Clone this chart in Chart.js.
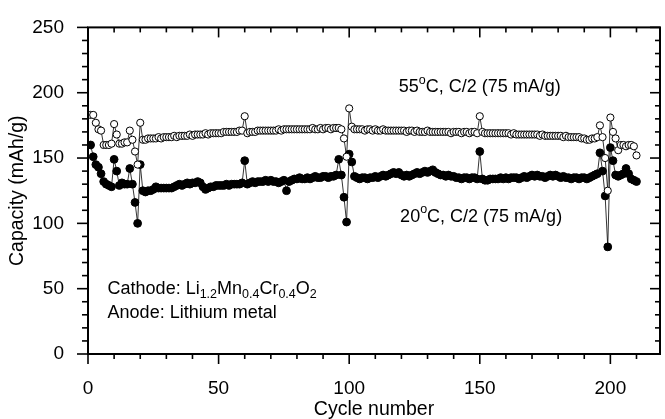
<!DOCTYPE html>
<html>
<head>
<meta charset="utf-8">
<script src="https://cdn.jsdelivr.net/npm/chart.js@4/dist/chart.umd.min.js"></script>
<style>
  html, body { margin: 0; padding: 0; background: #fff; }
  #wrap { width: 665px; height: 419px; }
</style>
</head>
<body>
<div id="wrap"><canvas id="capChart" width="665" height="419"></canvas></div>
<script>
// Kapasite verileri (mAh/g), döngü 1..210
const cap20C = [
  160, 151, 145, 143, 138, 132, 130, 129, 128, 149,
  140, 129, 131, 130, 130, 142, 130, 116, 100, 145,
  125, 124, 125, 125, 126, 128, 127, 127, 127, 127,
  127, 127, 128, 129, 130, 129, 130, 131, 130, 131,
  131, 132, 131, 128, 126, 127, 128, 128, 129, 129,
  129, 129, 130, 129, 130, 130, 130, 130, 131, 148,
  130, 131, 132, 131, 132, 132, 132, 133, 132, 133,
  132, 132, 131, 132, 133, 125, 132, 133, 134, 134,
  135, 134, 134, 135, 134, 135, 136, 135, 135, 136,
  136, 135, 136, 136, 137, 149, 137, 120, 101, 153,
  147, 136, 135, 134, 135, 135, 134, 135, 135, 136,
  135, 136, 137, 136, 137, 138, 139, 138, 139, 137,
  136, 137, 136, 137, 138, 139, 138, 139, 140, 139,
  140, 141, 139, 138, 137, 137, 136, 137, 136, 136,
  135, 135, 134, 135, 135, 134, 135, 135, 134, 155,
  134, 133, 133, 134, 134, 134, 134, 135, 134, 135,
  134, 135, 135, 135, 134, 135, 136, 135, 136, 137,
  136, 137, 136, 136, 135, 136, 137, 136, 137, 136,
  135, 136, 135, 135, 134, 135, 135, 134, 135, 135,
  134, 135, 136, 137, 138, 154, 140, 121, 82, 158,
  148, 137, 136, 137, 138, 142, 138, 134, 133, 132
];
const cap55C = [
  183, 183, 177, 172, 171, 160, 160, 160, 161, 176,
  168, 161, 161, 162, 162, 171, 164, 155, 145, 177,
  164, 164, 165, 165, 165, 165, 166, 165, 166, 166,
  166, 166, 167, 166, 167, 167, 167, 167, 168, 167,
  168, 168, 168, 168, 169, 168, 169, 169, 169, 169,
  169, 170, 170, 170, 170, 170, 170, 171, 171, 182,
  169, 170, 170, 170, 171, 171, 171, 171, 171, 171,
  171, 171, 172, 171, 172, 172, 172, 172, 172, 172,
  172, 172, 172, 172, 172, 173, 172, 172, 173, 172,
  173, 173, 172, 173, 173, 173, 172, 165, 151, 188,
  174, 172, 172, 172, 172, 171, 172, 172, 171, 172,
  171, 171, 172, 171, 171, 171, 171, 171, 171, 171,
  171, 170, 171, 171, 170, 171, 170, 170, 170, 171,
  170, 170, 170, 170, 170, 170, 170, 170, 169, 170,
  170, 170, 169, 170, 170, 169, 170, 170, 169, 182,
  170, 169, 169, 169, 169, 169, 169, 169, 169, 169,
  169, 168, 169, 168, 168, 168, 168, 168, 168, 168,
  168, 168, 167, 168, 167, 167, 167, 167, 167, 167,
  167, 166, 167, 166, 166, 166, 166, 166, 165, 165,
  164, 164, 165, 165, 166, 175, 166, 150, 125, 181,
  170, 165, 156, 160, 160, 159, 160, 160, 159, 152
];
const cycles = cap20C.map((_, i) => i + 1);
const xTicks = [0, 50, 100, 150, 200];
const yTicks = [0, 50, 100, 150, 200, 250];

const FONT = '"Liberation Sans", Arial, Helvetica, sans-serif';

// Çerçeve ve küçük tik çizgileri
const framePlugin = {
  id: 'frame',
  afterDraw(chart) {
    const ctx = chart.ctx;
    const a = chart.chartArea;
    const xs = chart.scales.x, ys = chart.scales.y;
    ctx.save();
    ctx.strokeStyle = '#000';
    ctx.lineWidth = 1.6;
    const line = (x1, y1, x2, y2) => {
      ctx.beginPath(); ctx.moveTo(x1, y1); ctx.lineTo(x2, y2); ctx.stroke();
    };
    for (let v = 0; v <= xs.max; v += 10) {
      const px = xs.getPixelForValue(v);
      const len = v % 50 === 0 ? 10 : 5;
      line(px, a.bottom, px, a.bottom + len);
      line(px, a.top, px, a.top + len);
    }
    for (let v = 0; v <= ys.max; v += 10) {
      const py = ys.getPixelForValue(v);
      const len = v % 50 === 0 ? 11 : 6;
      line(a.left - len, py, a.left, py);
      line(a.right, py, a.right - len + 1, py);
    }
    ctx.lineWidth = 2;
    ctx.strokeRect(a.left, a.top, a.right - a.left, a.bottom - a.top);
    ctx.restore();
  }
};

// Üst/alt simgeli metin
function drawRich(ctx, parts, x, y) {
  let cx = x;
  parts.forEach(p => {
    const size = p.s ? 12.5 : 18;
    const dy = p.s === 'sub' ? 6 : (p.s === 'sup' ? -7 : 0);
    ctx.font = size + 'px ' + FONT;
    ctx.fillText(p.t, cx, y + dy);
    cx += ctx.measureText(p.t).width;
  });
}

const notePlugin = {
  id: 'notes',
  afterDraw(chart) {
    const ctx = chart.ctx;
    const xs = chart.scales.x, ys = chart.scales.y;
    ctx.save();
    ctx.fillStyle = '#000';
    ctx.textBaseline = 'middle';
    ctx.textAlign = 'left';
    drawRich(ctx, [{ t: '55' }, { t: 'o', s: 'sup' }, { t: 'C, C/2 (75 mA/g)' }],
      xs.getPixelForValue(119), ys.getPixelForValue(204));
    drawRich(ctx, [{ t: '20' }, { t: 'o', s: 'sup' }, { t: 'C, C/2 (75 mA/g)' }],
      xs.getPixelForValue(119.5), ys.getPixelForValue(105));
    drawRich(ctx, [
      { t: 'Cathode: Li' }, { t: '1.2', s: 'sub' }, { t: 'Mn' }, { t: '0.4', s: 'sub' },
      { t: 'Cr' }, { t: '0.4', s: 'sub' }, { t: 'O' }, { t: '2', s: 'sub' }
    ], xs.getPixelForValue(7.5), ys.getPixelForValue(50));
    drawRich(ctx, [{ t: 'Anode: Lithium metal' }],
      xs.getPixelForValue(7.5), ys.getPixelForValue(31));
    ctx.restore();
  }
};

const ctx = document.getElementById('capChart').getContext('2d');
const capChart = new Chart(ctx, {
  type: 'scatter',
  data: {
    datasets: [{
      label: '55°C, C/2 (75 mA/g)',
      data: cycles.map((c, i) => ({ x: c, y: cap55C[i] })),
      showLine: true,
      borderColor: '#000',
      borderWidth: 0.8,
      pointRadius: 3.6,
      pointBackgroundColor: '#fff',
      pointBorderColor: '#000',
      pointBorderWidth: 1
    }, {
      label: '20°C, C/2 (75 mA/g)',
      data: cycles.map((c, i) => ({ x: c, y: cap20C[i] })),
      showLine: true,
      borderColor: '#000',
      borderWidth: 0.8,
      pointRadius: 3.9,
      pointBackgroundColor: '#000',
      pointBorderColor: '#000',
      pointBorderWidth: 1
    }]
  },
  options: {
    responsive: false,
    animation: false,
    layout: { padding: { top: 19, right: 2, left: 0, bottom: 0 } },
    plugins: { legend: { display: false }, tooltip: { enabled: false } },
    scales: {
      x: {
        type: 'linear',
        min: 0,
        max: 219,
        grid: { display: false },
        border: { display: false },
        afterBuildTicks: s => { s.ticks = xTicks.map(v => ({ value: v })); },
        afterFit: s => { s.height = 65; },
        ticks: {
          color: '#000', padding: 15, maxRotation: 0, autoSkip: false,
          font: { family: FONT, size: 19 }
        },
        title: {
          display: true, text: 'Cycle number', color: '#000',
          padding: { top: 0, bottom: 0 },
          font: { family: FONT, size: 19.5, lineHeight: 1 }
        }
      },
      y: {
        min: 0,
        max: 250,
        grid: { display: false },
        border: { display: false },
        afterBuildTicks: s => { s.ticks = yTicks.map(v => ({ value: v })); },
        afterFit: s => { s.width = 88; },
        ticks: {
          color: '#000', padding: 16,
          font: { family: FONT, size: 19 }
        },
        title: {
          display: true, text: 'Capacity (mAh/g)', color: '#000',
          padding: { top: 8, bottom: 0 },
          font: { family: FONT, size: 19.5, lineHeight: 1 }
        }
      }
    }
  },
  plugins: [framePlugin, notePlugin]
});
</script>
</body>
</html>
